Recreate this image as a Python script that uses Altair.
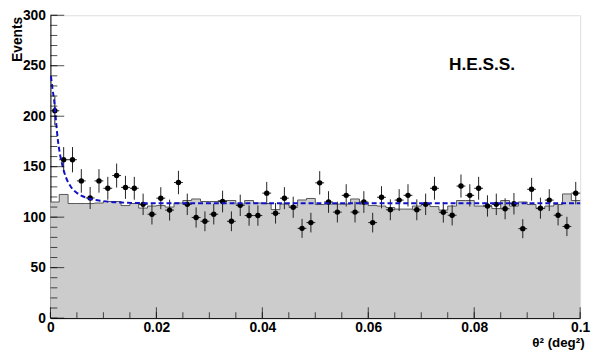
import altair as alt
import pandas as pd
import numpy as np

# ---- data ----
n_bins = 60
x_min, x_max = 0.0, 0.1
bin_width = (x_max - x_min) / n_bins

# ON counts (points with error bars)
on_counts = [205.4, 156.9, 156.9, 135.9, 119.0, 135.9, 128.6, 141.2, 129.5, 128.6,
             112.7, 102.9, 118.8, 107.0, 134.3, 112.7, 99.7, 95.9, 102.9, 115.5,
             95.9, 111.7, 101.6, 101.6, 123.8, 103.8, 118.8, 109.8, 88.9, 94.6,
             134.0, 115.0, 105.0, 121.6, 105.0, 115.0, 94.6, 119.7, 107.3, 116.9,
             121.6, 107.3, 112.7, 128.6, 104.8, 101.9, 130.8, 121.6, 128.6, 111.1,
             112.7, 108.3, 113.3, 88.6, 127.6, 108.9, 116.9, 101.9, 90.8, 123.8]

# OFF (background) histogram
off_counts = [115.0, 122.5, 113.5, 113.5, 113.5, 114.0, 115.5, 115.5, 111.5, 113.5,
              109.0, 111.0, 111.5, 110.0, 114.0, 116.5, 118.0, 115.5, 115.5, 116.5,
              116.5, 113.0, 116.5, 114.0, 113.5, 107.5, 113.0, 111.0, 117.0, 118.5,
              112.5, 113.0, 113.0, 113.0, 118.0, 113.0, 111.5, 111.0, 109.5, 108.0,
              108.0, 111.0, 112.5, 110.5, 107.0, 111.0, 116.5, 116.5, 111.0, 111.0,
              108.5, 116.5, 111.0, 115.0, 112.5, 108.5, 111.0, 112.5, 123.0, 116.5]

# fitted curve
fit_x = [0.0001, 0.0004, 0.00074, 0.00106, 0.00135, 0.00167, 0.00228, 0.00291,
         0.00384, 0.00506, 0.00692, 0.0100, 0.0134, 0.020, 0.050, 0.100]
fit_y = [239.7, 227.0, 214.0, 195.0, 179.0, 166.7, 150.8, 139.7,
         130.2, 123.8, 119.0, 115.9, 114.5, 113.8, 113.8, 113.8]

x_tick_labels = [0, 0.02, 0.04, 0.06, 0.08, 0.1]
y_tick_labels = [0, 50, 100, 150, 200, 250, 300]
x_minor = [round(i * 0.005, 4) for i in range(0, 21)]
y_minor = list(range(0, 301, 10))

# ---- tables ----
centers = [x_min + (i + 0.5) * bin_width for i in range(n_bins)]
pts = pd.DataFrame({
    "x": centers,
    "y": on_counts,
    "lo": [v - np.sqrt(v) for v in on_counts],
    "hi": [v + np.sqrt(v) for v in on_counts],
    "xl": [c - bin_width / 2 for c in centers],
    "xr": [c + bin_width / 2 for c in centers],
})
edges = [x_min + i * bin_width for i in range(n_bins)] + [x_max]
hist = pd.DataFrame({"x": edges, "y": off_counts + [off_counts[-1]]})
fit = pd.DataFrame({"x": fit_x, "y": fit_y})

W, H = 537, 307
FONT = "Liberation Sans"

xs = alt.Scale(domain=[x_min, x_max], nice=False, zero=False)
ys = alt.Scale(domain=[0, 300], nice=False)

x_axis = alt.Axis(values=x_tick_labels, format="~g", ticks=False, grid=False,
                  labelFont=FONT, labelFontWeight="bold", labelFontSize=14,
                  labelColor="black", labelPadding=3, domainColor="black",
                  title="θ² (deg²)", titleFont=FONT, titleFontWeight="bold",
                  titleFontSize=13.5, titleColor="black", titleAnchor="end",
                  titleAlign="right", titleX=W + 4, titleY=29,
                  titleBaseline="alphabetic", labelFlush=False)
y_axis = alt.Axis(values=y_tick_labels, ticks=False, grid=False,
                  labelFont=FONT, labelFontWeight="bold", labelFontSize=14,
                  labelColor="black", labelPadding=5, domainColor="black",
                  title="Events", titleFont=FONT, titleFontWeight="bold",
                  titleFontSize=14, titleColor="black", titleAngle=270,
                  titleAlign="right", titleBaseline="bottom", titleX=-26,
                  titleY=1, labelFlush=False)

area = alt.Chart(hist).mark_area(interpolate="step-after", color="#cccccc").encode(
    x=alt.X("x:Q", scale=xs, axis=x_axis),
    y=alt.Y("y:Q", scale=ys, axis=y_axis),
)
outline = alt.Chart(hist).mark_line(interpolate="step-after", color="#555555",
                                    strokeWidth=1).encode(
    x=alt.X("x:Q", scale=xs), y=alt.Y("y:Q", scale=ys))

vbar = alt.Chart(pts).mark_rule(color="#222222", strokeWidth=1).encode(
    x=alt.X("x:Q", scale=xs), y=alt.Y("lo:Q", scale=ys), y2="hi:Q")
hbar = alt.Chart(pts).mark_rule(color="#222222", strokeWidth=1).encode(
    x=alt.X("xl:Q", scale=xs), x2="xr:Q", y=alt.Y("y:Q", scale=ys))
dots = alt.Chart(pts).mark_circle(color="black", size=30, opacity=1).encode(
    x=alt.X("x:Q", scale=xs), y=alt.Y("y:Q", scale=ys))

curve = alt.Chart(fit).mark_line(color="#1010c8", strokeWidth=2,
                                 strokeDash=[5, 3], interpolate="monotone").encode(
    x=alt.X("x:Q", scale=xs), y=alt.Y("y:Q", scale=ys))

# inward tick marks (ROOT style)
y_major = alt.Chart(pd.DataFrame({"v": y_tick_labels})).mark_tick(
    color="black", thickness=1, size=14).encode(
    y=alt.Y("v:Q", scale=ys), x=alt.value(7))
y_min = alt.Chart(pd.DataFrame({"v": y_minor})).mark_tick(
    color="black", thickness=1, size=7).encode(
    y=alt.Y("v:Q", scale=ys), x=alt.value(3.5))
x_major = alt.Chart(pd.DataFrame({"v": x_tick_labels})).mark_tick(
    color="black", thickness=1, size=11).encode(
    x=alt.X("v:Q", scale=xs), y=alt.value(H - 5.5))
x_min_t = alt.Chart(pd.DataFrame({"v": x_minor})).mark_tick(
    color="black", thickness=1, size=6).encode(
    x=alt.X("v:Q", scale=xs), y=alt.value(H - 3))

label = alt.Chart(pd.DataFrame({"t": ["H.E.S.S."]})).mark_text(
    font=FONT, fontWeight="bold", fontSize=17.5, align="left", baseline="middle",
    color="black").encode(text="t:N", x=alt.value(404), y=alt.value(50))

chart = alt.layer(area, outline, vbar, hbar, dots, curve,
                  y_min, y_major, x_min_t, x_major, label).properties(
    width=W, height=H,
    autosize=alt.AutoSizeParams(type="none"),
    padding={"left": 43, "top": 5, "right": 12, "bottom": 32},
).configure_view(stroke="#333333", strokeWidth=1).configure(background="white")

chart.save("out.html", embed_options={"renderer": "svg", "actions": False})
